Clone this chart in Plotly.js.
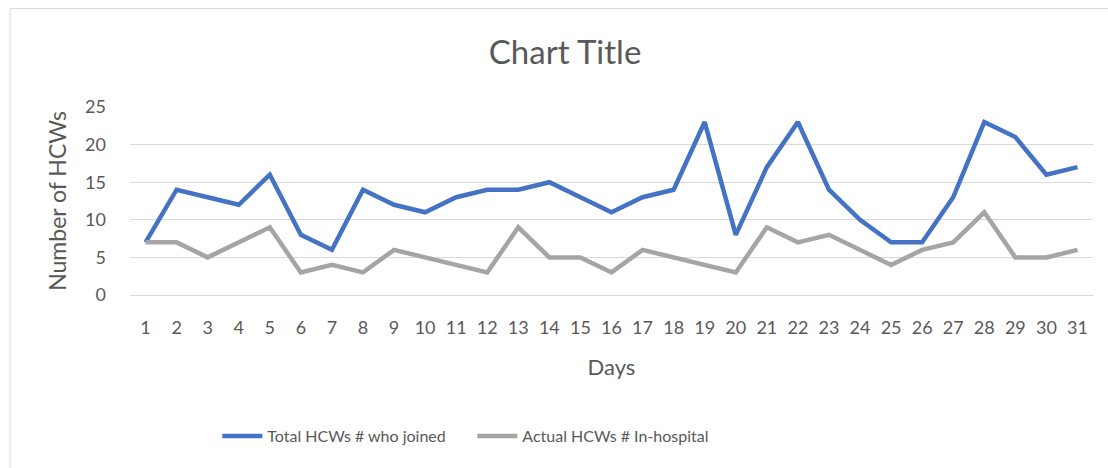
<!DOCTYPE html>
<html>
<head>
<meta charset="utf-8">
<script src="https://cdn.plot.ly/plotly-3.0.1.min.js"></script>
<style>
html,body{margin:0;padding:0;background:#fff;overflow:hidden;}
#chart{width:1108px;height:468px;}
</style>
</head>
<body>
<div id="chart"></div>
<script>
const days = [1,2,3,4,5,6,7,8,9,10,11,12,13,14,15,16,17,18,19,20,21,22,23,24,25,26,27,28,29,30,31];
const totalJoined = [7,14,13,12,16,8,6,14,12,11,13,14,14,15,13,11,13,14,23,8,17,23,14,10,7,7,13,23,21,16,17];
const actualInHospital = [7,7,5,7,9,3,4,3,6,5,4,3,9,5,5,3,6,5,4,3,9,7,8,6,4,6,7,11,5,5,6];
const seriesNames = ['Total HCWs # who joined', 'Actual HCWs # In-hospital'];
const yTicks = [0,5,10,15,20,25];

const font = 'Lato, "Open Sans", sans-serif';
const txt = '#595959';

const W = 1108, H = 468;
const M = {l: 129.5, r: 14.5, t: 107, b: 173};
const pw = W - M.l - M.r, ph = H - M.t - M.b;

const data = [
  {x: days, y: totalJoined, name: seriesNames[0], type: 'scatter', mode: 'lines',
   line: {color: '#4472C4', width: 4.5}},
  {x: days, y: actualInHospital, name: seriesNames[1], type: 'scatter', mode: 'lines',
   line: {color: '#A5A5A5', width: 4.5}}
];

const layout = {
  width: W, height: H,
  margin: M,
  paper_bgcolor: '#fff', plot_bgcolor: '#fff',
  font: {family: font, color: txt, size: 18},
  title: {text: 'Chart Title', font: {family: font, size: 33, color: txt}, x: 0.51, xanchor: 'center', y: 0.888, yanchor: 'middle'},
  xaxis: {
    range: [0.5, 31.5], tickvals: days, ticktext: days.map(String),
    showgrid: false, zeroline: false, showline: false, ticks: '',
    ticklabelstandoff: 20,
    tickfont: {size: 18, color: txt},
    title: {text: 'Days', font: {size: 22, color: txt}, standoff: 22},
    fixedrange: true
  },
  yaxis: {
    range: [0, 25], tickvals: yTicks,
    showgrid: true, gridcolor: '#d9d9d9', gridwidth: 1,
    zeroline: true, zerolinecolor: '#d9d9d9', zerolinewidth: 1,
    showline: false, ticks: '', ticklabelstandoff: 23,
    tickfont: {size: 18, color: txt},
    title: {text: 'Number of HCWs', font: {size: 23, color: txt}, standoff: 12},
    fixedrange: true
  },
  shapes: [
    // outer chart-area frame (left and top edges visible; right/bottom fall outside the picture)
    {type: 'rect', xref: 'paper', yref: 'paper', layer: 'below',
     x0: (9.5 - M.l) / pw, x1: (W + 40 - M.l) / pw,
     y0: (H - M.b - (H + 40)) / ph, y1: (H - M.b - 8.5) / ph,
     line: {color: '#d9d9d9', width: 1}, fillcolor: 'rgba(0,0,0,0)'}
  ],
  showlegend: true,
  legend: {orientation: 'h', x: 0.3555, xanchor: 'center', y: -0.75, yanchor: 'middle',
           font: {size: 16, color: txt}, itemwidth: 40, entrywidth: 200, entrywidthmode: 'pixels',
           tracegroupgap: 0, traceorder: 'normal'}
};

Plotly.newPlot('chart', data, layout, {displayModeBar: false, staticPlot: true});
</script>
</body>
</html>
